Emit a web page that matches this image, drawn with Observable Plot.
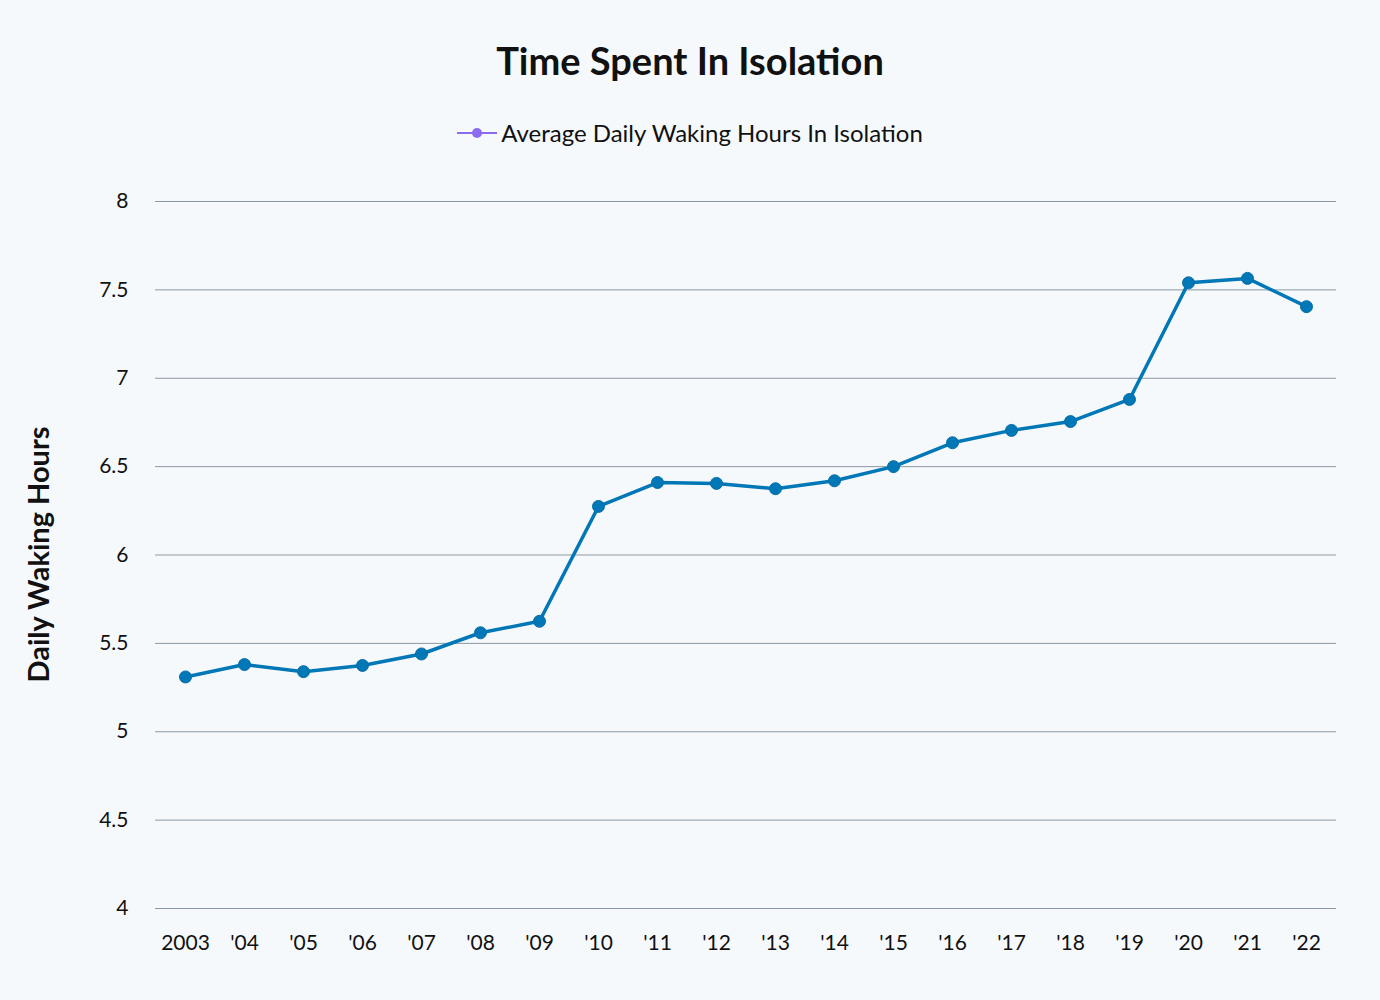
<!DOCTYPE html>
<html>
<head>
<meta charset="utf-8">
<script src="https://cdn.jsdelivr.net/npm/d3@7"></script>
<script src="https://cdn.jsdelivr.net/npm/@observablehq/plot@0.6"></script>
<style>
  html, body { margin: 0; padding: 0; background: #f6f9fb; }
  #wrap { position: relative; width: 1380px; height: 1000px; background: #f6f9fb; font-family: Lato, "Open Sans", sans-serif; color: #111; }
  #title { position: absolute; top: 35px; left: 0; width: 1380px; text-align: center; font-size: 38px; font-weight: 700; line-height: 50px; }
  #legend { position: absolute; top: 118px; left: 0; width: 1380px; display: flex; justify-content: center; align-items: center; font-size: 24px; line-height: 30px; }
  #legend svg { margin-right: 4px; }
  #chart { position: absolute; top: 170px; left: 0; }
</style>
</head>
<body>
<div id="wrap">
  <div id="title">Time Spent In Isolation</div>
  <div id="legend"><svg width="40" height="16"><line x1="0" y1="8" x2="40" y2="8" stroke="#8b6cf0" stroke-width="2"/><circle cx="20" cy="8" r="5" fill="#8b6cf0"/></svg><span>Average Daily Waking Hours In Isolation</span></div>
  <div id="chart"></div>
</div>
<script>
const years = ["2003","2004","2005","2006","2007","2008","2009","2010","2011","2012","2013","2014","2015","2016","2017","2018","2019","2020","2021","2022"];
const yearLabels = ["2003","'04","'05","'06","'07","'08","'09","'10","'11","'12","'13","'14","'15","'16","'17","'18","'19","'20","'21","'22"];
const hours = [5.31,5.38,5.34,5.375,5.44,5.56,5.625,6.275,6.41,6.405,6.375,6.42,6.5,6.635,6.705,6.755,6.88,7.54,7.565,7.405];
const yTicks = [4,4.5,5,5.5,6,6.5,7,7.5,8];

const data = years.map((y, i) => ({year: y, label: yearLabels[i], value: hours[i]}));
const labelOf = new Map(years.map((y, i) => [y, yearLabels[i]]));

const chart = Plot.plot({
  width: 1380,
  height: 830,
  marginLeft: 155,
  marginRight: 44,
  marginTop: 31,
  marginBottom: 92,
  style: { background: "transparent", fontFamily: "Lato, 'Open Sans', sans-serif", fontSize: "21px", color: "#111" },
  x: { type: "point", domain: years, padding: 0.5, label: null },
  y: { domain: [4, 8], label: null },
  marks: [
    Plot.ruleY(yTicks, { stroke: "#8a98a5", strokeWidth: 1, strokeOpacity: 1 }),
    Plot.axisX({ tickSize: 0, tickPadding: 27, fontSize: 21, tickFormat: d => labelOf.get(d), label: null }),
    Plot.axisY(yTicks, { tickSize: 0, tickPadding: 27, fontSize: 21, tickFormat: d => String(d), label: null }),
    Plot.line(data, { x: "year", y: "value", stroke: "#0077b6", strokeWidth: 3.5 }),
    Plot.dot(data, { x: "year", y: "value", r: 6, fill: "#0077b6", stroke: "#0a6ea8", strokeWidth: 1 })
  ]
});
document.getElementById("chart").appendChild(chart);

// Y-axis title
const svg = d3.select(chart);
svg.append("text")
  .attr("transform", `translate(42, ${(31 + (830 - 92)) / 2}) rotate(-90)`)
  .attr("text-anchor", "middle")
  .attr("dominant-baseline", "middle")
  .attr("font-size", 29)
  .attr("font-weight", 700)
  .attr("fill", "#111")
  .text("Daily Waking Hours");
</script>
</body>
</html>
